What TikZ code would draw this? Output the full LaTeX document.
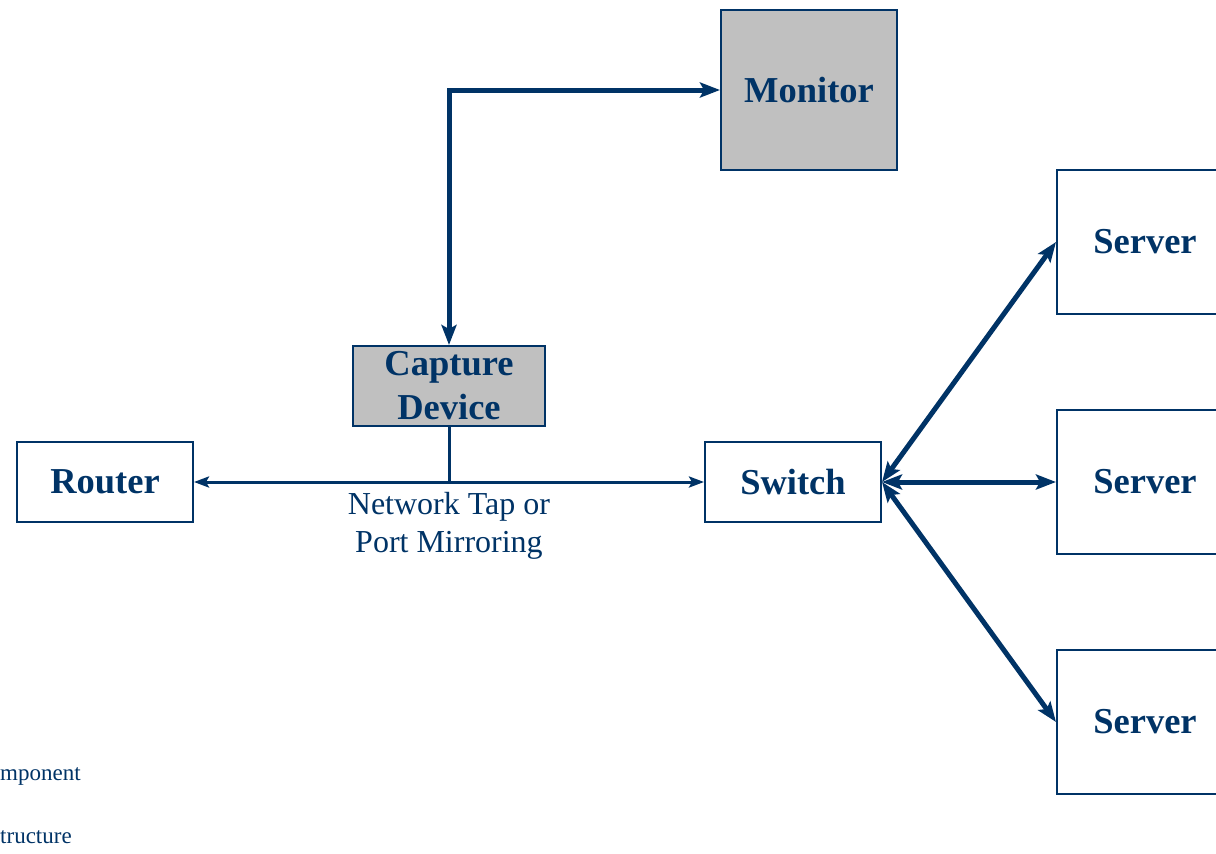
\documentclass[tikz,border=0pt]{standalone}
\usepackage{fontspec}
\setmainfont{Liberation Serif}
\usetikzlibrary{arrows.meta}
\definecolor{navy}{HTML}{003366}
\definecolor{boxgray}{HTML}{C0C0C0}
\tikzset{
  unitbox/.style={draw=navy, line width=2pt, minimum width=176pt, minimum height=80pt, inner sep=0pt,
    text=navy, font=\fontsize{36.5}{44}\selectfont\bfseries, align=center},
  graybox/.style={unitbox, fill=boxgray},
  serverbox/.style={unitbox, minimum height=144pt},
  thickarrow/.style={draw=navy, line width=5pt, {Stealth[length=20pt,width=15pt,inset=4pt]}-{Stealth[length=20pt,width=15pt,inset=4pt]}},
  thinarrow/.style={draw=navy, line width=3pt, {Stealth[length=15pt,width=11pt,inset=3pt]}-{Stealth[length=15pt,width=11pt,inset=3pt]}},
  plainline/.style={draw=navy, line width=3pt},
  labeltext/.style={text=navy, font=\fontsize{32}{38}\selectfont, align=center, inner sep=0pt},
  smalltext/.style={text=navy, font=\fontsize{23}{28}\selectfont, inner sep=0pt},
}
\begin{document}
\begin{tikzpicture}[x=1pt,y=-1pt]
\useasboundingbox (0,0) rectangle (1216,854);
\clip (0,0) rectangle (1216,854);
\node[graybox] (monitor) at (809,90) [minimum height=160pt] {Monitor};
\node[graybox, minimum width=192pt] (capture) at (449,386) {Capture\\Device};
\node[unitbox] (router) at (105,482) {Router};
\node[unitbox] (switch) at (793,482) {Switch};
\node[serverbox] (s1) at (1145,242) {Server};
\node[serverbox] (s2) at (1145,482) {Server};
\node[serverbox] (s3) at (1145,722) {Server};
\coordinate (corner) at (capture.north |- monitor.west);
\coordinate (tap) at (capture.south |- router.east);
\draw[thickarrow] (capture.north) -- (corner) -- (monitor.west);
\draw[thinarrow] (router.east) -- (switch.west);
\draw[plainline] (capture.south) -- (tap);
\node[labeltext, anchor=north] (lbl) at (449,492) {Network Tap or\\Port Mirroring};
\draw[thickarrow] (switch.east) -- (s1.west);
\draw[thickarrow] (switch.east) -- (s2.west);
\draw[thickarrow] (switch.east) -- (s3.west);
\node[smalltext, anchor=base west] (t1) at (0,780) {mponent};
\node[smalltext, anchor=base west] (t2) at (0,843) {tructure};
\end{tikzpicture}
\end{document}
